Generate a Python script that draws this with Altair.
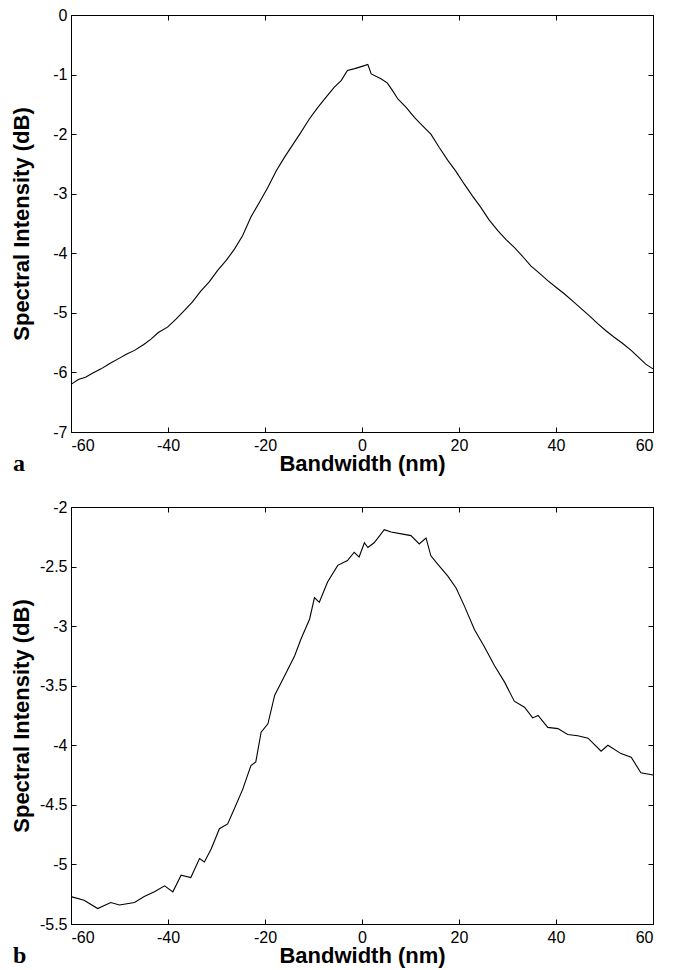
import altair as alt
import pandas as pd

# Panel a: bandwidth (nm) vs spectral intensity (dB)
bw_a = [-60.0, -58.5, -57.0, -55.5, -53.8, -52.0, -50.0, -48.5, -46.9, -45.0, -43.5,
        -42.0, -40.1, -38.3, -36.6, -35.0, -33.2, -31.5, -29.8, -28.0, -26.3, -24.6,
        -22.9, -21.2, -19.4, -17.7, -16.0, -14.3, -12.6, -10.9, -9.1, -7.4, -5.7,
        -4.3, -3.0, -1.5, 0.5, 1.2, 1.9, 3.9, 5.2, 6.3, 7.4, 9.1, 10.8, 12.5, 14.2,
        15.9, 17.7, 19.4, 21.1, 22.8, 24.5, 26.2, 28.0, 29.7, 31.4, 33.1, 34.8,
        36.5, 38.3, 40.0, 41.7, 43.4, 45.2, 46.9, 48.6, 50.3, 52.0, 53.7, 55.5,
        57.2, 58.5, 60.0]
int_a = [-6.20, -6.12, -6.08, -6.01, -5.94, -5.85, -5.76, -5.69, -5.63, -5.53, -5.44,
         -5.33, -5.24, -5.10, -4.96, -4.82, -4.63, -4.48, -4.29, -4.12, -3.93, -3.70,
         -3.39, -3.15, -2.89, -2.62, -2.39, -2.18, -1.97, -1.75, -1.55, -1.38, -1.21,
         -1.10, -0.93, -0.90, -0.85, -0.83, -0.99, -1.07, -1.14, -1.27, -1.41, -1.55,
         -1.72, -1.86, -2.00, -2.22, -2.44, -2.63, -2.84, -3.04, -3.23, -3.44, -3.62,
         -3.77, -3.90, -4.05, -4.21, -4.33, -4.46, -4.57, -4.68, -4.80, -4.93, -5.05,
         -5.18, -5.30, -5.41, -5.51, -5.63, -5.76, -5.86, -5.94]

# Panel b
bw_b = [-60.0, -57.3, -54.5, -51.8, -50.0, -46.9, -44.9, -42.8, -40.7, -39.0, -37.3,
        -35.3, -33.5, -32.5, -31.1, -29.4, -27.7, -26.3, -24.6, -22.9, -21.9, -20.8,
        -19.4, -18.0, -16.0, -13.9, -12.6, -10.8, -9.8, -8.8, -7.1, -5.0, -3.0, -1.6,
        -0.6, 0.5, 1.2, 2.5, 4.6, 6.0, 8.7, 10.1, 11.8, 13.2, 14.2, 15.6, 17.7, 19.4,
        21.1, 23.2, 25.2, 27.3, 29.4, 31.4, 33.5, 35.2, 36.3, 38.3, 40.4, 42.4, 44.5,
        46.6, 49.3, 50.7, 53.4, 55.5, 57.5, 60.0]
int_b = [-5.27, -5.30, -5.37, -5.32, -5.34, -5.32, -5.27, -5.23, -5.18, -5.23, -5.09,
         -5.11, -4.95, -4.98, -4.87, -4.70, -4.66, -4.53, -4.37, -4.17, -4.14, -3.89,
         -3.82, -3.58, -3.42, -3.25, -3.11, -2.94, -2.76, -2.80, -2.63, -2.49, -2.45,
         -2.38, -2.42, -2.30, -2.34, -2.30, -2.19, -2.21, -2.23, -2.24, -2.31, -2.26,
         -2.41, -2.48, -2.58, -2.68, -2.83, -3.03, -3.17, -3.33, -3.47, -3.63, -3.68,
         -3.77, -3.75, -3.85, -3.86, -3.91, -3.92, -3.94, -4.05, -4.00, -4.07, -4.10,
         -4.23, -4.25]

x_ticks = [-60, -40, -20, 0, 20, 40, 60]
y_ticks_a = [0, -1, -2, -3, -4, -5, -6, -7]
y_ticks_b = [-2, -2.5, -3, -3.5, -4, -4.5, -5, -5.5]

FONT = "Liberation Sans"
W, H = 582, 417
TICK = 5


def panel(bw, inten, yticks, ydomain, letter, title_pad):
    df = pd.DataFrame({"bw": bw, "si": inten})
    xs = alt.Scale(domain=[-60, 60], nice=False, zero=False)
    ys = alt.Scale(domain=ydomain, nice=False, zero=False)
    common = dict(offset=-TICK, tickSize=TICK, domain=False, grid=False,
                  tickColor="black", tickWidth=1)
    main = alt.Chart(df).mark_line(color="black", strokeWidth=1.1).encode(
        x=alt.X("bw:Q", scale=xs, axis=alt.Axis(
            orient="bottom", values=x_ticks, title="Bandwidth (nm)",
            labelExpr="toString(datum.value)", labelFont=FONT, labelFontSize=16,
            labelColor="black", labelPadding=5, titleFont=FONT, titleFontSize=22,
            titleFontWeight="bold", titleColor="black", titlePadding=0, **common)),
        y=alt.Y("si:Q", scale=ys, axis=alt.Axis(
            orient="left", values=yticks, title="Spectral Intensity (dB)",
            labelExpr="toString(datum.value)", labelFont=FONT, labelFontSize=16,
            labelColor="black", labelPadding=4, titleFont=FONT, titleFontSize=22,
            titleFontWeight="bold", titleColor="black", titlePadding=title_pad,
            **common)),
    )
    mirror = alt.Chart(df).mark_line(opacity=0).encode(
        x=alt.X("bw:Q", scale=xs, axis=alt.Axis(
            orient="top", values=x_ticks, labels=False, title="", **common)),
        y=alt.Y("si:Q", scale=ys, axis=alt.Axis(
            orient="right", values=yticks, labels=False, title="", **common)),
    )
    tag = alt.Chart(pd.DataFrame({"t": [letter]})).mark_text(
        font="Liberation Serif", fontSize=24, fontWeight="bold", color="black",
        align="left", baseline="alphabetic").encode(
        x=alt.value(-58), y=alt.value(H + 39), text="t:N")
    return alt.layer(main, mirror, tag).resolve_axis(
        x="independent", y="independent").properties(width=W, height=H)


pa = panel(bw_a, int_a, y_ticks_a, [-7, 0], "a", 19)
pb = panel(bw_b, int_b, y_ticks_b, [-5.5, -2], "b", 6)

chart = alt.vconcat(pa, pb, spacing=21).properties(
    padding={"top": -2, "left": 1, "right": 5, "bottom": 2}
).configure_view(stroke="black", strokeWidth=1)

chart.save("out.html", embed_options={"renderer": "svg", "actions": False})
